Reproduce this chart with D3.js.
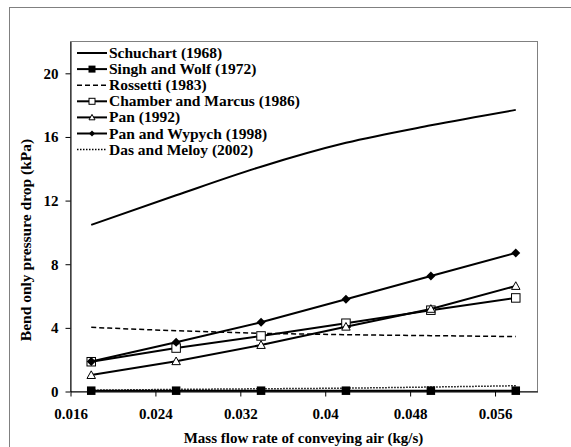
<!DOCTYPE html>
<html>
<head>
<meta charset="utf-8">
<script src="https://cdn.jsdelivr.net/npm/d3@7"></script>
<style>
  body { margin: 0; background: #fff; }
  text { font-family: "Liberation Serif", "Times New Roman", serif; font-weight: bold; }
</style>
</head>
<body>
<div id="chart"></div>
<script>
// datos
const massFlow = [0.018, 0.026, 0.034, 0.042, 0.05, 0.058];
const schuchart = [10.44, 12.3, 14.1, 15.6, 16.7, 17.67];
const singhWolf = [0.02, 0.02, 0.02, 0.02, 0.02, 0.02];
const rossetti = [4.0, 3.79, 3.63, 3.54, 3.48, 3.42];
const chamberMarcus = [1.84, 2.7, 3.46, 4.26, 5.08, 5.85];
const pan = [1.0, 1.87, 2.89, 4.04, 5.16, 6.6];
const panWypych = [1.86, 3.06, 4.32, 5.77, 7.23, 8.68];
const dasMeloy = [0.05, 0.1, 0.14, 0.18, 0.25, 0.33];

const xTicks = [0.016, 0.024, 0.032, 0.04, 0.048, 0.056];
const xTickLabels = ["0.016", "0.024", "0.032", "0.04", "0.048", "0.056"];
const yTicks = [0, 4, 8, 12, 16, 20];

const series = [
    { name: "Schuchart (1968)", values: schuchart, marker: "none", dash: null, smooth: true },
    { name: "Singh and Wolf (1972)", values: singhWolf, marker: "squareFill", dash: null, smooth: false },
    { name: "Rossetti (1983)", values: rossetti, marker: "none", dash: "5,3", smooth: true },
    { name: "Chamber and Marcus (1986)", values: chamberMarcus, marker: "square", dash: null, smooth: false },
    { name: "Pan (1992)", values: pan, marker: "triangle", dash: null, smooth: false },
    { name: "Pan and Wypych (1998)", values: panWypych, marker: "diamond", dash: null, smooth: false },
    { name: "Das and Meloy (2002)", values: dasMeloy, marker: "none", dash: "1.5,1.5", smooth: true }
];

const W = 571, H = 447;
const FS = "15px";
const svg = d3.select("#chart").append("svg");
svg.attr("width", W).attr("height", H);

// borde exterior del grafico
svg.append("rect")
    .attr("x", 9.5).attr("y", 7.5)
    .attr("width", W).attr("height", H)
    .attr("fill", "none")
    .attr("stroke", "#808080");

const x = d3.scaleLinear().domain([0.016, 0.06]).range([70, 537]);
const y = d3.scaleLinear().domain([0, 22]).range([391, 41]);

// marco del area de trazado
svg.append("rect")
    .attr("x", x(0.016) + 0.5).attr("y", y(22) + 0.5)
    .attr("width", x(0.06) - x(0.016)).attr("height", y(0) - y(22))
    .attr("fill", "none")
    .attr("stroke", "#808080");

const xAxis = svg.append("g")
    .attr("transform", `translate(0.5,${y(0) + 0.5})`)
    .call(d3.axisBottom(x).tickValues(xTicks)
        .tickFormat((d, i) => xTickLabels[i])
        .tickSize(5).tickPadding(12).tickSizeOuter(0));

const yAxis = svg.append("g")
    .attr("transform", `translate(${x(0.016) + 0.5},0.5)`)
    .call(d3.axisLeft(y).tickValues(yTicks)
        .tickSize(5).tickPadding(7).tickSizeOuter(0));

[xAxis, yAxis].forEach(a => {
    a.select(".domain").attr("stroke", "#000");
    a.selectAll(".tick line").attr("stroke", "#000");
    a.selectAll(".tick text")
        .attr("fill", "#000")
        .style("font-size", FS)
        .style("font-family", "'Liberation Serif', serif");
});

svg.append("text")
    .attr("x", (x(0.016) + x(0.06)) / 2)
    .attr("y", 443)
    .attr("text-anchor", "middle")
    .style("font-size", FS)
    .text("Mass flow rate of conveying air (kg/s)");

svg.append("text")
    .attr("transform", `translate(31,240) rotate(-90)`)
    .attr("text-anchor", "middle")
    .style("font-size", "15.5px")
    .text("Bend only pressure drop (kPa)");

function drawMarker(g, type, size) {
    const s = size / 2;
    if (type === "squareFill") {
        g.append("rect").attr("x", -s).attr("y", -s).attr("width", size).attr("height", size)
            .attr("fill", "#000");
    } else if (type === "square") {
        g.append("rect").attr("x", -s).attr("y", -s).attr("width", size).attr("height", size)
            .attr("fill", "#fff").attr("stroke", "#000").attr("stroke-width", 1);
    } else if (type === "triangle") {
        g.append("path").attr("d", `M0,${-s}L${s},${s * 0.8}L${-s},${s * 0.8}Z`)
            .attr("fill", "#fff").attr("stroke", "#000").attr("stroke-width", 1);
    } else if (type === "diamond") {
        g.append("path").attr("d", `M0,${-s}L${s},0L0,${s}L${-s},0Z`)
            .attr("fill", "#000");
    }
}

const plot = svg.append("g");

series.forEach(sr => {
    const line = d3.line()
        .x((d, i) => x(massFlow[i]))
        .y(d => y(d))
        .curve(sr.smooth ? d3.curveMonotoneX : d3.curveLinear);

    plot.append("path")
        .datum(sr.values)
        .attr("d", line)
        .attr("fill", "none")
        .attr("stroke", "#000")
        .attr("stroke-width", sr.dash ? 1.5 : 2)
        .attr("stroke-dasharray", sr.dash);

    if (sr.marker !== "none") {
        plot.selectAll(null)
            .data(sr.values)
            .join("g")
            .attr("transform", (d, i) => `translate(${x(massFlow[i])},${y(d)})`)
            .each(function () { drawMarker(d3.select(this), sr.marker, sr.marker === "diamond" ? 9 : 8.5); });
    }
});

// leyenda
const legend = svg.append("g").attr("transform", "translate(77,53)");
series.forEach((sr, i) => {
    const row = legend.append("g").attr("transform", `translate(0,${i * 16.1})`);
    row.append("line")
        .attr("x1", 0).attr("x2", 30).attr("y1", 0).attr("y2", 0)
        .attr("stroke", "#000")
        .attr("stroke-width", sr.dash ? 1.5 : 2)
        .attr("stroke-dasharray", sr.dash);
    if (sr.marker !== "none") {
        const m = row.append("g").attr("transform", "translate(15,0)");
        drawMarker(m, sr.marker, sr.marker === "squareFill" ? 7 : 6);
    }
    row.append("text")
        .attr("x", 32).attr("y", 5)
        .style("font-size", "15.5px")
        .text(sr.name);
});
</script>
</body>
</html>
